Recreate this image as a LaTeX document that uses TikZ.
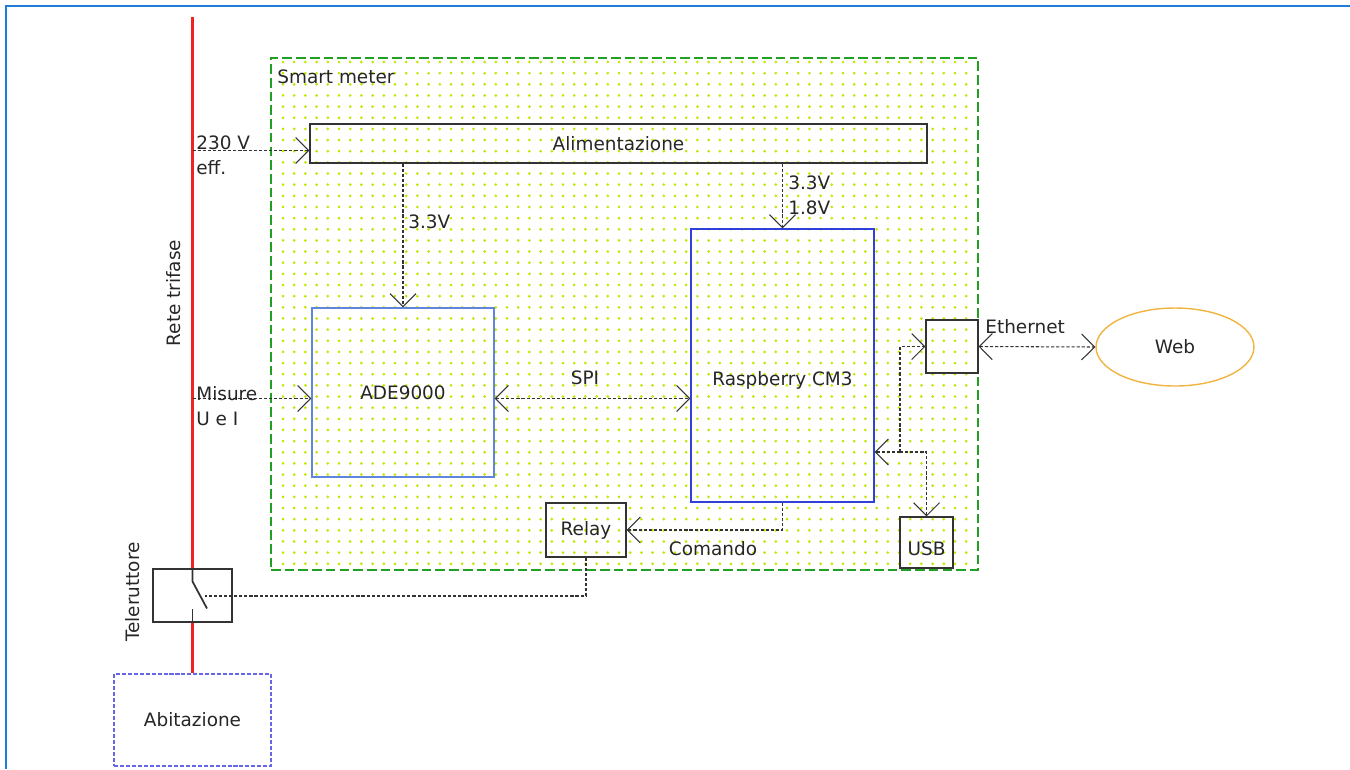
\documentclass[tikz,border=0pt]{standalone}
\usepackage{fontspec}
\setmainfont{DejaVu Sans}
\usepackage{tikz}
\usetikzlibrary{arrows.meta, fit, shapes.geometric}
\definecolor{cornice}{HTML}{1F7FD6}
\definecolor{fase}{HTML}{EE2424}
\definecolor{meter}{HTML}{22A022}
\definecolor{puntini}{HTML}{C6E400}
\definecolor{linea}{HTML}{333333}
\definecolor{adeblu}{HTML}{5F86DC}
\definecolor{cmblu}{HTML}{3040D8}
\definecolor{casa}{HTML}{6666E6}
\definecolor{webgiallo}{HTML}{F0B440}
\newcommand{\labelfont}{\fontsize{10.5}{14}\selectfont}
\tikzset{
	blk/.style={draw=linea, line width=0.6pt, inner sep=0pt},
	chip/.style={blk, draw=#1, line width=0.8pt},
	tag/.style={inner sep=0pt, align=left},
	conn/.style={draw=linea, line width=0.6pt, dash pattern=on 1.8pt off 1.1pt,
		>={Straight Barb[length=2.6mm, width=5.2mm]}},
	rete/.style={fase, line width=1.5pt},
}

\begin{document}
\begin{tikzpicture}[x=0.02cm, y=-0.02cm, font=\labelfont, text=black!85]
	\useasboundingbox (0,0) rectangle (1350,769);
	\draw[cornice, line width=1.1pt] (6,769) -- (6,6) -- (1350,6);

	\fill[puntini] foreach \i in {0,...,61} {foreach \j in {0,...,45} {(283+11.2*\i, 62+11.15*\j) circle (0.85pt)}};

	\node[fit={(271,58) (978,570)}, draw=meter, line width=1.1pt, dash pattern=on 5.5pt off 2.3pt, inner sep=0pt] (sm) {};
	\node[tag, anchor=west] (smlab) at (277,77) {Smart meter};

	\node[blk, fit={(310,124) (927,163)}] (alim) {};
	\node (alimlab) at (alim.center) {Alimentazione};
	\node[chip=adeblu, fit={(312,308) (494,477)}] (ade) {};
	\node (adelab) at (ade.center) {ADE9000};
	\node[chip=cmblu, fit={(691,229) (874,502)}] (rasp) {};
	\node (rasplab) at ([yshift=-3mm]rasp.center) {Raspberry CM3};
	\node[blk, fit={(926,320) (978,373)}] (eth) {};
	\node[blk, fit={(900,517) (953,568)}] (usb) {};
	\node (usblab) at ([yshift=-1.3mm]usb.center) {USB};
	\node[blk, fit={(546,503) (626,557)}] (relay) {};
	\node (relaylab) at (relay.center) {Relay};
	\node[blk, fit={(153,569) (232,622)}] (tele) {};
	\node[draw=casa, line width=0.8pt, dash pattern=on 2.3pt off 1.1pt, inner sep=0pt,
		fit={(114,674) (271,766)}] (abit) {};
	\node (abitlab) at (abit.center) {Abitazione};
	\node[ellipse, draw=webgiallo, line width=0.8pt, minimum width=31.6mm, minimum height=15.6mm] (web) at (1175,347) {Web};

	\coordinate (rtop) at (tele.north |- 0,17);
	\draw[rete] (rtop) -- (tele.north);
	\draw[rete] (tele.south) -- (abit.north);
	\draw[linea, line width=1pt] (tele.north) -- ++(0,13) -- ++(14.5,27);
	\draw[linea, line width=1pt] (tele.south) -- ++(0,-14);
	\coordinate (blade) at (205,596);
	\node[rotate=90] (retelab) at (174,293) {Rete trifase};
	\node[rotate=90] (telelab) at (133,592) {Teleruttore};

	\coordinate (in230) at ([yshift=-1.4mm]alim.west);
	\draw[conn, ->] (in230 -| rtop) -- (in230);
	\node[tag, anchor=west] (l230) at (196,155) {230 V\\eff.};

	\coordinate (inmis) at ([yshift=-1.2mm]ade.west);
	\draw[conn, ->] (inmis -| rtop) -- (inmis);
	\node[tag, anchor=west] (lmis) at (196,406) {Misure\\U e I};

	\coordinate (spi) at ([yshift=-1.2mm]ade.east);
	\draw[conn, <->] (spi) -- (spi -| rasp.west);
	\node (lspi) at (585,378) {SPI};

	\draw[conn, ->] (alim.south -| ade.north) -- (ade.north);
	\node[tag, anchor=west] (lade) at (408,222) {3.3V};
	\draw[conn, ->] (alim.south -| rasp.north) -- (rasp.north);
	\node[tag, anchor=west] (lcm) at (788,195) {3.3V\\1.8V};

	\draw[conn, ->] (rasp.south) |- (relay.east);
	\node (lcom) at (713,549) {Comando};
	\draw[conn] (relay.south) |- (blade);

	\draw[conn, <->] (eth.east) -- (web.west);
	\node[tag, anchor=west] (leth) at (985,327) {Ethernet};
	\coordinate (hub) at (900,452);
	\draw[conn, ->] (hub) -- (hub -| rasp.east);
	\draw[conn, ->] (hub) |- (eth.west);
	\draw[conn, ->] (hub) -| (usb.north);
\end{tikzpicture}
\end{document}
